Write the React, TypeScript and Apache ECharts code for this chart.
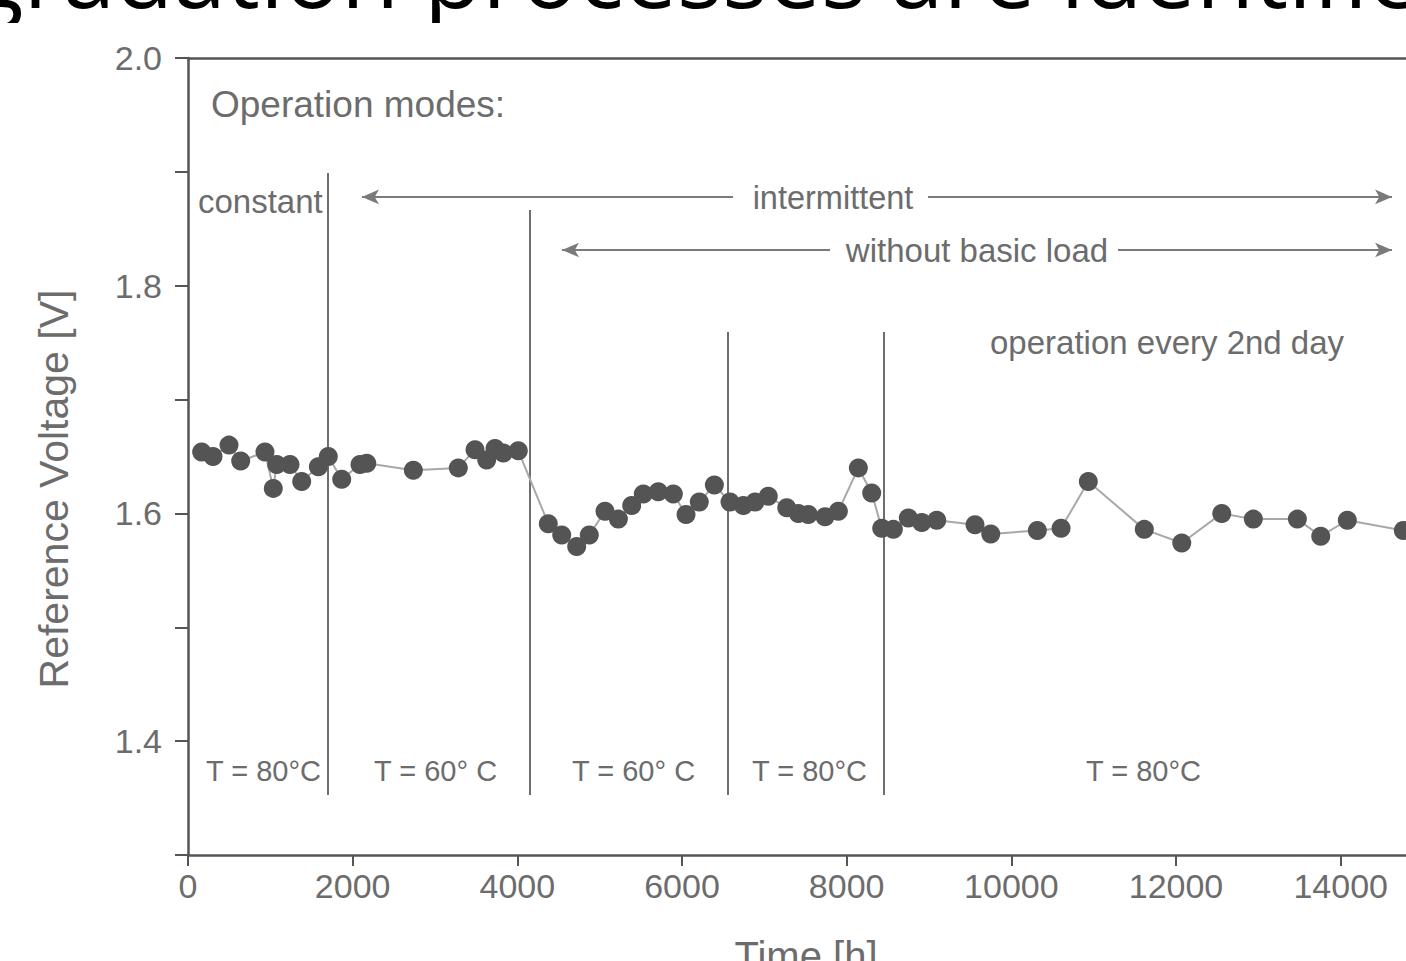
import React, { useEffect, useRef } from "react";
import * as echarts from "echarts";

// Measured operating time [h] and reference voltage [V]
const timeHours = [
  166, 304, 498, 640, 935, 1036, 1077, 1239, 1381, 1583, 1704, 1867, 2089, 2171, 2737, 3283, 3486, 3628, 3729, 3830, 4012,
  4376, 4539, 4721, 4874, 5065, 5227, 5389, 5530, 5712, 5895, 6049, 6210, 6393, 6583, 6745, 6887, 7048, 7272, 7413, 7534,
  7737, 7899, 8142, 8304, 8426, 8567, 8749, 8912, 9094, 9559, 9750, 10316, 10604, 10935, 11615, 12070, 12556, 12939, 13474,
  13758, 14081, 14761,
];
const refVoltage = [
  1.654, 1.65, 1.66, 1.646, 1.654, 1.622, 1.643, 1.643, 1.628, 1.641, 1.65, 1.63, 1.643, 1.644, 1.638, 1.64, 1.656, 1.647,
  1.657, 1.653, 1.655, 1.591, 1.581, 1.571, 1.581, 1.602, 1.595, 1.607, 1.617, 1.619, 1.617, 1.599, 1.61, 1.625, 1.61, 1.607,
  1.61, 1.615, 1.605, 1.6, 1.599, 1.597, 1.602, 1.64, 1.618, 1.587, 1.586, 1.596, 1.592, 1.594, 1.59, 1.582, 1.585, 1.587,
  1.628, 1.586, 1.574, 1.6, 1.595, 1.595, 1.58, 1.594, 1.585,
];

// Phase boundaries (vertical separators): time, top voltage, bottom voltage
const boundaryTimes = [1700, 4154, 6559, 8454];
const boundaryTops = [1.899, 1.8665, 1.7594, 1.7594];
const boundaryBottom = 1.3527;

// Arrow segments: [fromTime, toTime, voltage] ; arrow head at "to"
const arrowSegments = [
  [6620, 2113, 1.878],
  [8988, 14624, 1.878],
  [7798, 4543, 1.8314],
  [11296, 14624, 1.8314],
];

const xTicks = [0, 2000, 4000, 6000, 8000, 10000, 12000, 14000];
const yTickLabels = ["1.4", "1.6", "1.8", "2.0"];

const GRAY_TEXT = "#6c6c6c";
const AXIS = "#555555";
const FONT = "Liberation Sans, Arial, sans-serif";

export default function App() {
  const ref = useRef<HTMLDivElement>(null);

  useEffect(() => {
    if (!ref.current) return;
    const chart = echarts.init(ref.current, undefined, { renderer: "svg" });

    const points = timeHours.map((t, i) => [t, refVoltage[i]]);

    const markLines: any[] = [];
    boundaryTimes.forEach((t, i) => {
      markLines.push([
        { coord: [t, boundaryTops[i]], symbol: "none" },
        { coord: [t, boundaryBottom], symbol: "none" },
      ]);
    });
    arrowSegments.forEach(([a, b, v]) => {
      markLines.push([
        { coord: [a, v], symbol: "none", lineStyle: { color: "#7a7a7a", width: 2 } },
        { coord: [b, v], symbol: "arrow", symbolSize: [11, 17], lineStyle: { color: "#7a7a7a", width: 2 } },
      ]);
    });

    const txt = (text: string, x: number, y: number, size: number, align = "left", extra: any = {}) => ({
      type: "text",
      x,
      y,
      silent: true,
      z: 10,
      style: {
        text,
        fill: GRAY_TEXT,
        font: `${size}px ${FONT}`,
        align,
        verticalAlign: "middle",
      },
      ...extra,
    });

    chart.setOption({
      animation: false,
      backgroundColor: "#ffffff",
      grid: { left: 188, top: 58, bottom: 106, right: 17, containLabel: false },
      xAxis: [
        {
          type: "value",
          min: 0,
          max: 15000,
          interval: 2000,
          position: "bottom",
          axisLine: { show: true, onZero: false, lineStyle: { color: AXIS, width: 2.5 } },
          axisTick: { show: true, length: 11, lineStyle: { color: AXIS, width: 2 } },
          axisLabel: {
            color: GRAY_TEXT,
            fontSize: 34,
            fontFamily: FONT,
            margin: 14,
            formatter: (v: number) => (xTicks.includes(Math.round(v)) ? String(Math.round(v)) : ""),
          },
          splitLine: { show: false },
        },
        {
          type: "value",
          min: 0,
          max: 15000,
          position: "top",
          axisLine: { show: true, onZero: false, lineStyle: { color: AXIS, width: 2.5 } },
          axisTick: { show: false },
          axisLabel: { show: false },
          splitLine: { show: false },
        },
      ],
      yAxis: {
        type: "value",
        min: 1.3,
        max: 2.0,
        interval: 0.1,
        axisLine: { show: true, onZero: false, lineStyle: { color: AXIS, width: 2.5 } },
        axisTick: { show: true, length: 13, lineStyle: { color: AXIS, width: 2 } },
        axisLabel: {
          color: GRAY_TEXT,
          fontSize: 34,
          fontFamily: FONT,
          margin: 26,
          formatter: (v: number) => {
            const s = (Math.round(v * 10) / 10).toFixed(1);
            return yTickLabels.includes(s) ? s : "";
          },
        },
        splitLine: { show: false },
      },
      series: [
        {
          type: "line",
          data: [],
          silent: true,
          markLine: {
            silent: true,
            animation: false,
            symbol: "none",
            label: { show: false },
            lineStyle: { color: "#6e6e6e", width: 2, type: "solid" },
            emphasis: { disabled: true },
            data: markLines,
          },
        },
        {
          type: "line",
          data: points,
          symbol: "circle",
          symbolSize: 19,
          showSymbol: true,
          itemStyle: { color: "#545454" },
          lineStyle: { color: "#a8a8a8", width: 2 },
          z: 5,
        },
      ],
      graphic: [
        {
          type: "text",
          x: -28,
          y: -29,
          silent: true,
          z: 1,
          style: {
            text: "gradation processes are identifie",
            fill: "#000000",
            font: `95px "Open Sans", "Noto Sans", sans-serif`,
            align: "left",
            verticalAlign: "middle",
          },
        },
        {
          type: "rect",
          silent: true,
          z: 2,
          shape: { x: 0, y: 23, width: 1440, height: 24 },
          style: { fill: "#ffffff" },
        },
        txt("Operation modes:", 211, 104, 37),
        txt("constant", 198, 201, 33),
        txt("intermittent", 833, 198, 32.5, "center"),
        txt("without basic load", 977, 250, 33, "center"),
        txt("operation every 2nd day", 990, 342, 33),
        txt("T = 80°C", 206, 771, 29),
        txt("T = 60° C", 374, 771, 29),
        txt("T = 60° C", 572, 771, 29),
        txt("T = 80°C", 752, 771, 29),
        txt("T = 80°C", 1086, 771, 29),
        txt("Reference Voltage [V]", 54, 489, 41, "center", { rotation: Math.PI / 2 }),
        txt("Time [h]", 806, 956, 40, "center"),
      ],
    });

    return () => chart.dispose();
  }, []);

  return (
    <div
      ref={ref}
      style={{ position: "fixed", left: 0, top: 0, width: 1440, height: 961, background: "#fff" }}
    />
  );
}
